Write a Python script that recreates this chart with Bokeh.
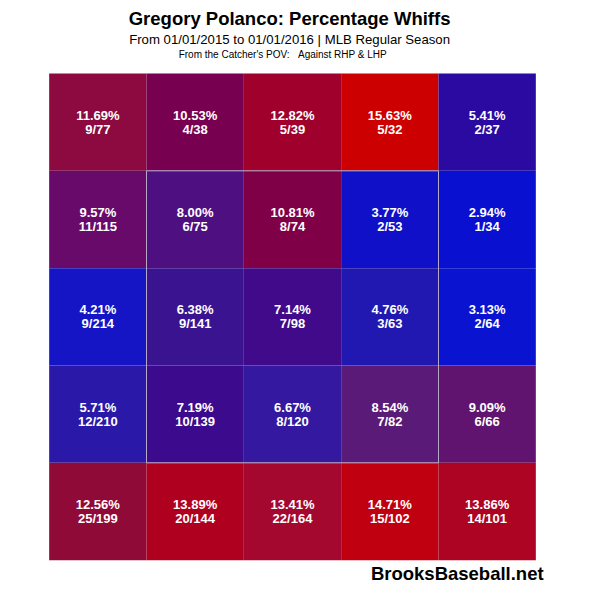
from bokeh.plotting import figure
from bokeh.models import Range1d, ColumnDataSource
from bokeh.core.properties import value
from bokeh.embed import file_html
from bokeh.resources import INLINE

# ---- data (rows top->bottom, columns left->right, catcher's POV) ----
pct_row0 = ["11.69%", "10.53%", "12.82%", "15.63%", "5.41%"]
pct_row1 = ["9.57%", "8.00%", "10.81%", "3.77%", "2.94%"]
pct_row2 = ["4.21%", "6.38%", "7.14%", "4.76%", "3.13%"]
pct_row3 = ["5.71%", "7.19%", "6.67%", "8.54%", "9.09%"]
pct_row4 = ["12.56%", "13.89%", "13.41%", "14.71%", "13.86%"]

frac_row0 = ["9/77", "4/38", "5/39", "5/32", "2/37"]
frac_row1 = ["11/115", "6/75", "8/74", "2/53", "1/34"]
frac_row2 = ["9/214", "9/141", "7/98", "3/63", "2/64"]
frac_row3 = ["12/210", "10/139", "8/120", "7/82", "6/66"]
frac_row4 = ["25/199", "20/144", "22/164", "15/102", "14/101"]

color_row0 = ["#8C0A40", "#780050", "#A0002C", "#CC0000", "#2A0AA0"]
color_row1 = ["#680A6A", "#4E1080", "#800048", "#1010C8", "#0A10D0"]
color_row2 = ["#1515C5", "#3A1490", "#400A8A", "#2018B0", "#0A14D0"]
color_row3 = ["#2A18A8", "#3C0A8C", "#3418A0", "#5A1A78", "#601470"]
color_row4 = ["#900A38", "#B00020", "#A4082E", "#C00010", "#AC0422"]

pcts = [pct_row0, pct_row1, pct_row2, pct_row3, pct_row4]
fracs = [frac_row0, frac_row1, frac_row2, frac_row3, frac_row4]
colors = [color_row0, color_row1, color_row2, color_row3, color_row4]

title = "Gregory Polanco: Percentage Whiffs"
subtitle = "From 01/01/2015 to 01/01/2016 | MLB Regular Season"
subtitle2 = "From the Catcher's POV:\u00a0\u00a0\u00a0Against RHP & LHP"
credit = "BrooksBaseball.net"

# ---- build table ----
xs, ys, cs, ps, fs = [], [], [], [], []
for r in range(5):
    for c in range(5):
        xs.append(c + 1.0)
        ys.append(r + 1.25)
        cs.append(colors[r][c])
        ps.append(pcts[r][c])
        fs.append(fracs[r][c])
src = ColumnDataSource(dict(x=xs, y=ys, color=cs, pct=ps, frac=fs))

p = figure(width=584, height=584, output_backend="svg", toolbar_location=None,
           x_range=Range1d(0, 6), y_range=Range1d(6, 0), min_border=0,
           background_fill_color="white", border_fill_color="white")
p.axis.visible = False
p.grid.visible = False
p.outline_line_color = None

p.rect(x="x", y="y", width=1, height=1, source=src, fill_color="color",
       line_color="color", line_width=0)

# strike zone box (inner 3x3)
p.rect(x=[3.0], y=[3.25], width=3, height=3, fill_alpha=0,
       line_color="#B8A8C8", line_width=1)

font = value("Liberation Sans")
p.text(x="x", y="y", text="pct", source=src, text_color="white",
       text_font=font, text_font_style="bold", text_font_size="13px",
       text_align="center", text_baseline="middle", y_offset=-7)
p.text(x="x", y="y", text="frac", source=src, text_color="white",
       text_font=font, text_font_style="bold", text_font_size="13px",
       text_align="center", text_baseline="middle", y_offset=7)

p.text(x=[2.97], y=[0.18], text=[title], text_font=font, text_font_style="bold",
       text_font_size="18.5px", text_align="center", text_baseline="middle",
       text_color="black")
p.text(x=[2.97], y=[0.40], text=[subtitle], text_font=font,
       text_font_size="13.2px", text_align="center", text_baseline="middle",
       text_color="black")
p.text(x=[2.90], y=[0.55], text=[subtitle2], text_font=font,
       text_font_size="10px", text_align="center", text_baseline="middle",
       text_color="black")
p.text(x=[5.58], y=[5.89], text=[credit], text_font=font, text_font_style="bold",
       text_font_size="18.5px", text_align="right", text_baseline="middle",
       text_color="black")

open("out.html", "w").write(file_html(p, INLINE))
